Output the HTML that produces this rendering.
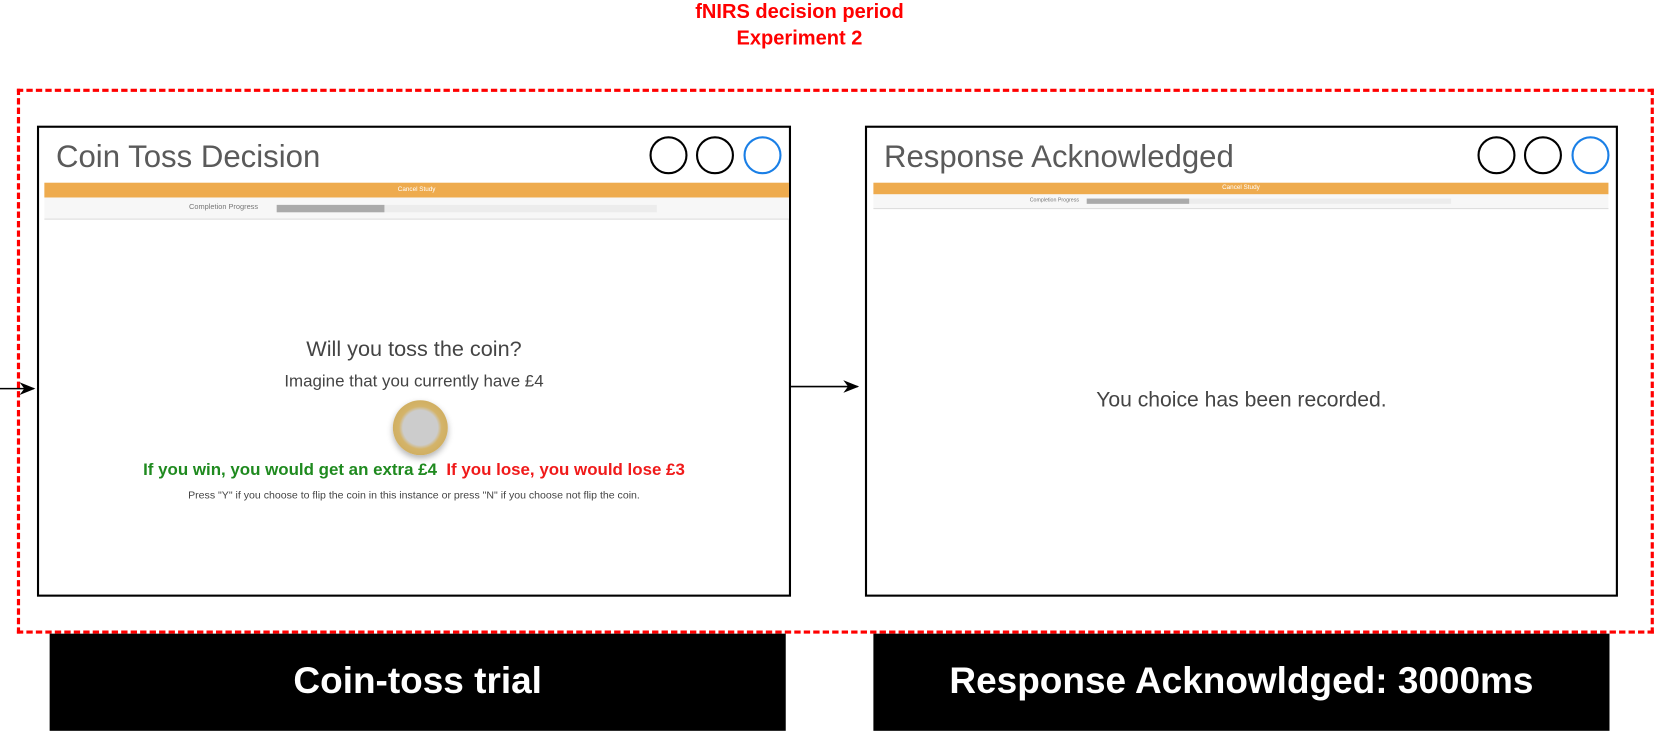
<!DOCTYPE html>
<html><head><style>
body{margin:0;width:1656px;height:729px;background:#fff;position:relative;overflow:hidden;font-family:"Liberation Sans",sans-serif}
#w{position:absolute;left:0;top:0;width:1568px;height:690px;transform:scale(1.0561);transform-origin:0 0}
.a{position:absolute}
.panel{position:absolute;border:2px solid #000;background:#fff;box-sizing:border-box}
.title{position:absolute;left:16px;top:11px;font-size:29.5px;color:#5a5a5a}
.c{position:absolute;width:36px;height:36px;border:2px solid #000;border-radius:50%;box-sizing:border-box;top:8px}
.blk{position:absolute;background:#000;color:#fff;font-weight:bold;font-size:35px;text-align:center;line-height:90px;top:600px;height:92px}
.ot{font-size:6px;color:#fff;text-align:center}
</style></head><body><div id="w">
<div class="a" style="left:0;top:-1px;width:1514px;text-align:center;color:#f00;font-weight:bold;font-size:19px;line-height:25px">fNIRS decision period<br>Experiment 2</div>
<div class="a" style="left:16px;top:84px;width:1550px;height:516px;border:3px dashed #f00;box-sizing:border-box"></div>

<div class="panel" style="left:35px;top:119px;width:714px;height:446px">
 <div class="title">Coin Toss Decision</div>
 <div class="c" style="left:578px"></div><div class="c" style="left:622px"></div><div class="c" style="left:667px;border-color:#1a7fe6"></div>
 <div class="a ot" style="left:5px;top:52px;width:705px;height:14px;background:#eeab4e;line-height:14px">Cancel Study</div>
 <div class="a" style="left:5px;top:66px;width:705px;height:20px;background:#f7f7f7;border-bottom:1px solid #ddd"></div>
 <div class="a" style="left:142px;top:72px;font-size:7px;color:#777">Completion Progress</div>
 <div class="a" style="left:225px;top:73px;width:360px;height:7px;background:#ececec"></div>
 <div class="a" style="left:225px;top:73px;width:102px;height:7px;background:#aaa"></div>
 <div class="a" style="left:0;top:198px;width:710px;text-align:center;font-size:20.5px;color:#444">Will you toss the coin?</div>
 <div class="a" style="left:0;top:232px;width:710px;text-align:center;font-size:16px;color:#444">Imagine that you currently have £4</div>
 <div class="a" style="left:335px;top:258px;width:52px;height:52px;border-radius:50%;background:radial-gradient(circle,#ccc 0 45%,#d4b46a 55%,#c9a552 100%);box-shadow:0 3px 6px rgba(0,0,0,.3)"></div>
 <div class="a" style="left:0;top:316px;width:710px;text-align:center;font-size:16px;font-weight:bold"><span style="color:#1f8a1f">If you win, you would get an extra £4</span>&nbsp; <span style="color:#f01a1a">If you lose, you would lose £3</span></div>
 <div class="a" style="left:0;top:343px;width:710px;text-align:center;font-size:10px;color:#444">Press "Y" if you choose to flip the coin in this instance or press "N" if you choose not flip the coin.</div>
</div>

<div class="panel" style="left:819px;top:119px;width:713px;height:446px">
 <div class="title">Response Acknowledged</div>
 <div class="c" style="left:578px"></div><div class="c" style="left:622px"></div><div class="c" style="left:667px;border-color:#1a7fe6"></div>
 <div class="a ot" style="left:6px;top:52px;width:696px;height:11px;background:#eeab4e;line-height:11px">Cancel Study</div>
 <div class="a" style="left:6px;top:63px;width:696px;height:13px;background:#f7f7f7;border-bottom:1px solid #ddd"></div>
 <div class="a" style="left:154px;top:66px;font-size:5px;color:#777">Completion Progress</div>
 <div class="a" style="left:208px;top:67px;width:345px;height:5px;background:#ececec"></div>
 <div class="a" style="left:208px;top:67px;width:97px;height:5px;background:#aaa"></div>
 <div class="a" style="left:0;top:247px;width:709px;text-align:center;font-size:20px;color:#444">You choice has been recorded.</div>
</div>

<svg class="a" style="left:0;top:0" width="1568" height="690">
 <defs><marker id="m" markerWidth="10" markerHeight="10" refX="9" refY="5" orient="auto"><path d="M0,1 L10,5 L0,9 L3,5z" fill="#000"/></marker></defs>
 <line x1="0" y1="368" x2="32" y2="368" stroke="#000" stroke-width="1.5" marker-end="url(#m)"/>
 <line x1="749" y1="366" x2="812" y2="366" stroke="#000" stroke-width="1.5" marker-end="url(#m)"/>
</svg>

<div class="blk" style="left:47px;width:697px">Coin-toss trial</div>
<div class="blk" style="left:827px;width:697px">Response Acknowldged: 3000ms</div>
</div></body></html>
